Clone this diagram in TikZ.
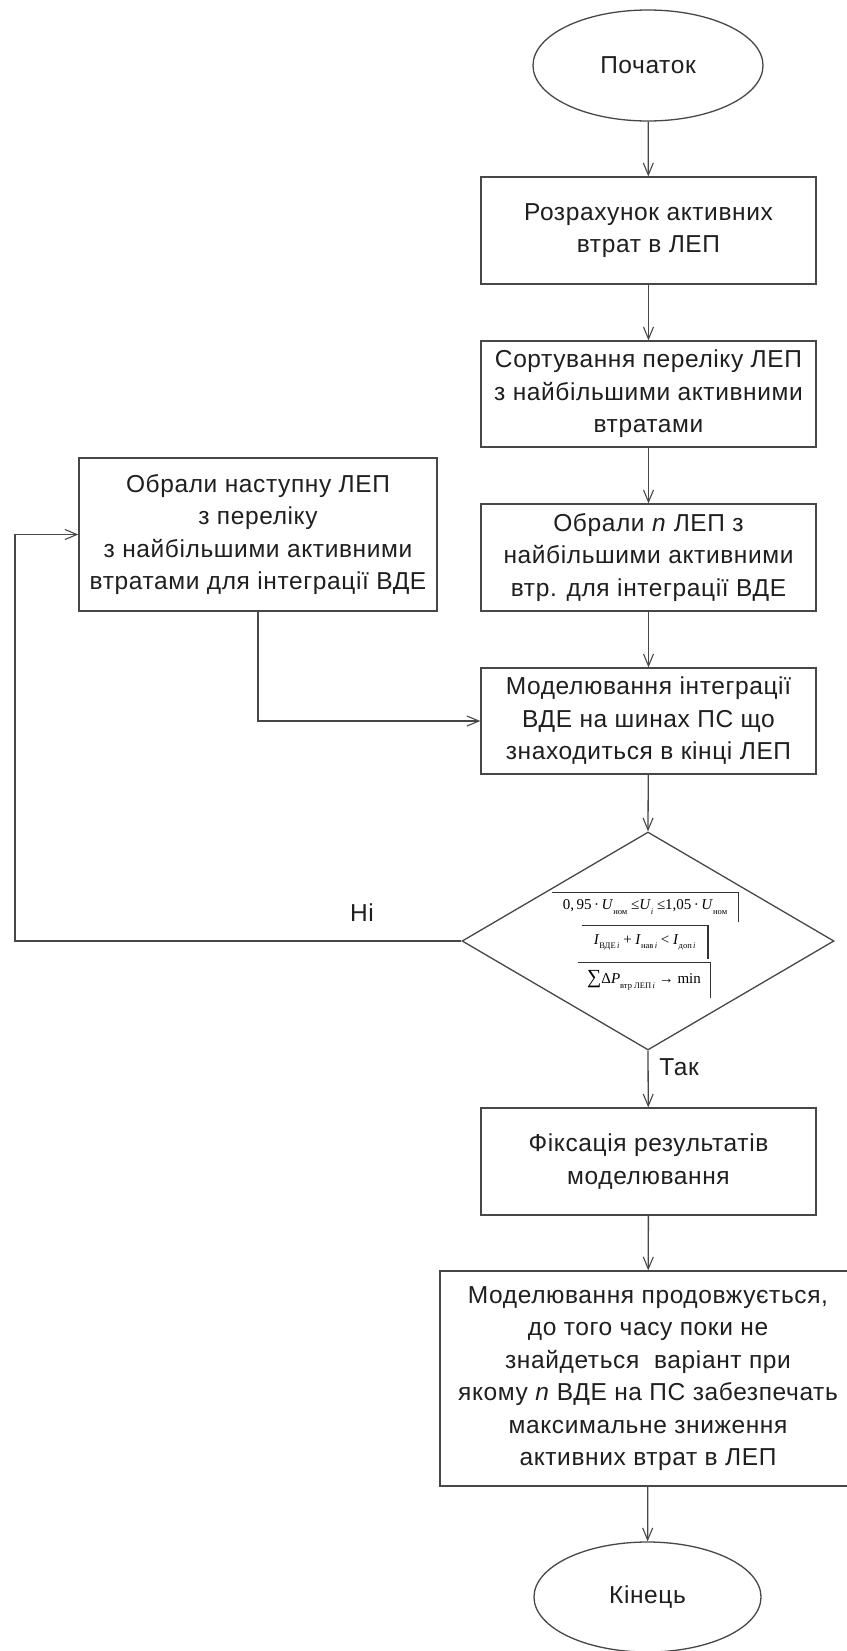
\documentclass[tikz,border=0pt]{standalone}
\usepackage{fontspec}
\setmainfont{Liberation Sans}[LetterSpace=2.5]
\newfontfamily\tnr{Liberation Serif}
\usetikzlibrary{shapes.geometric,arrows.meta}
\newcommand{\sbx}[1]{\raisebox{-0.3em}{\fontsize{8.5}{9}\selectfont #1}}
\begin{document}
\begin{tikzpicture}[x=1pt,y=-1pt,
  line/.style={draw=black!72, line width=1.3pt},
  arr/.style={line, -{Straight Barb[length=12pt,width=10pt,line width=1.1pt]}},
  base/.style={line, inner sep=0pt, align=center, text=black!88,
    font=\fontsize{24.5}{32.5}\selectfont},
  box/.style={base, rectangle, minimum width=335pt, minimum height=107pt},
  term/.style={base, ellipse},
  dia/.style={line, diamond, inner sep=0pt, minimum width=372pt, minimum height=218pt},
  frm/.style={inner sep=0pt, text=black, font=\tnr\fontsize{15}{18}\selectfont},
  fline/.style={draw=black!80, line width=1.2pt},
  lbl/.style={inner sep=0pt, text=black!88, font=\fontsize{24.5}{26}\selectfont}]
\useasboundingbox (0,0) rectangle (846,1651);
\fill[white] (0,0) rectangle (846,1651);

\node[term, minimum width=230pt, minimum height=111pt] (start) at (648,65.5) {Початок};
\node[box] (b1) at (648.5,230.5) {Розрахунок активних\\втрат в ЛЕП};
\node[box, minimum height=106pt] (b2) at (648.5,394) {Сортування переліку ЛЕП\\з найбільшими активними\\втратами};
\node[box] (b3) at (648.5,557.5) {Обрали \textit{n} ЛЕП з\\найбільшими активними\\втр. для інтеграції ВДЕ};
\node[box, minimum height=106pt] (b4) at (648.5,721) {Моделювання інтеграції\\ВДЕ на шинах ПС що\\знаходиться в кінці ЛЕП};
\node[base, rectangle, minimum width=358pt, minimum height=153pt] (lb) at (258,534.5) {Обрали наступну ЛЕП\\з переліку\\з найбільшими активними\\втратами для інтеграції ВДЕ};
\node[dia] (d) at (648,941) {};
\node[frm, minimum width=186.6pt, minimum height=29.4pt] (f1) at (645,907) {0,\,95\,·\,\textit{U}\sbx{ном} ≤\textit{U}\sbx{\textit{i}} ≤1,05\,·\,\textit{U}\sbx{ном}};
\node[frm, minimum width=126pt, minimum height=33.3pt] (f2) at (644.7,942.3) {\textit{I}\sbx{ВДЕ\,\textit{i}} + \textit{I}\sbx{нав\,\textit{i}} < \textit{I}\sbx{доп\,\textit{i}}};
\node[frm, minimum width=132pt, minimum height=35.3pt] (f3) at (644,980.3) {{\fontsize{20}{20}\selectfont ∑}Δ\textit{P}\sbx{втр ЛЕП\,\textit{i}} → min};
\draw[fline] (f1.north west) -- (f1.north east) -- (f1.south east);
\draw[fline] (f2.north west) -- (f2.north east) -- (f2.south east);
\draw[fline] (f3.north west) -- (f3.north east) -- (f3.south east);
\node[box, minimum height=107pt] (b5) at (648.5,1161.5) {Фіксація результатів\\моделювання};
\node[box, minimum width=416pt, minimum height=215pt] (b6) at (648,1378.5) {Моделювання продовжується,\\до того часу поки не\\знайдеться\ \ варіант при\\якому \textit{n} ВДЕ на ПС забезпечать\\максимальне зниження\\активних втрат в ЛЕП};
\node[term, minimum width=227pt, minimum height=110pt] (end) at (647.5,1597) {Кінець};

\coordinate (c1) at (15,941);
\coordinate (c2) at (15,534.5);

\draw[arr] (start) -- (b1);
\draw[arr] (b1) -- (b2);
\draw[arr] (b2) -- (b3);
\draw[arr] (b3) -- (b4);
\draw[arr] (b4) -- (d.north);
\draw[arr] (d.south) -- (b5);
\draw[arr] (b5) -- (b6);
\draw[arr] (b6) -- (end);
\draw[arr] (d.west) -- (c1) -- (c2) -- (lb.west);
\draw[arr] (lb.south) |- (b4.west);

\node[lbl] (yes) at (679,1067) {Так};
\node[lbl] (no) at (362,912.5) {Ні};
\end{tikzpicture}
\end{document}
